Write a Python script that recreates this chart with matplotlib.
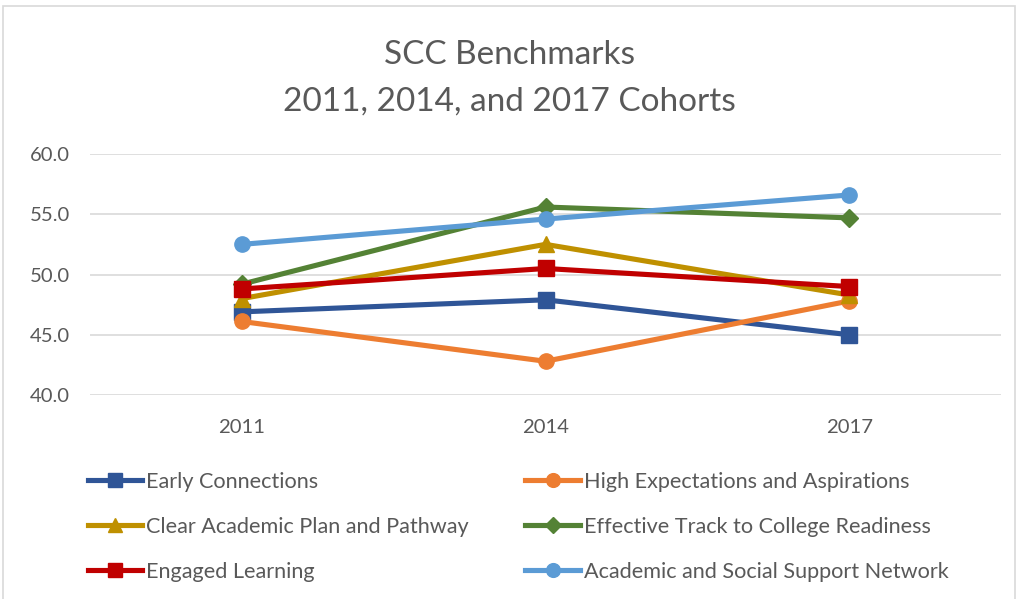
import matplotlib
matplotlib.use("Agg")
import matplotlib.pyplot as plt
from matplotlib.patches import Rectangle

years = ["2011", "2014", "2017"]
series_names = [
    "Early Connections",
    "High Expectations and Aspirations",
    "Clear Academic Plan and Pathway",
    "Effective Track to College Readiness",
    "Engaged Learning",
    "Academic and Social Support Network",
]
early = [46.9, 47.9, 45.0]
high = [46.1, 42.8, 47.8]
clear = [48.0, 52.5, 48.3]
effective = [49.2, 55.6, 54.7]
engaged = [48.8, 50.5, 49.0]
academic = [52.5, 54.6, 56.6]
yticks = [40.0, 45.0, 50.0, 55.0, 60.0]

colors = ["#2F5597", "#ED7D31", "#BF9000", "#548235", "#C00000", "#5B9BD5"]
markers = ["s", "o", "^", "D", "s", "o"]
msizes = [11, 11, 11, 9, 11, 11]
data = [early, high, clear, effective, engaged, academic]

plt.rcParams['font.family'] = ['Lato', 'DejaVu Sans']
txt = "#595959"

fig = plt.figure(figsize=(10.18, 5.99), dpi=100)
ax = fig.add_axes([90/1018, 1-395/599, (1001-90)/1018, (395-154)/599])

x = list(range(len(years)))
handles = []
for name, vals, c, m, ms in zip(series_names, data, colors, markers, msizes):
    h, = ax.plot(x, vals, color=c, lw=3.7, marker=m, markersize=ms,
                 markeredgecolor=c, markerfacecolor=c, label=name, zorder=3)
    handles.append(h)

ax.set_xlim(-0.5, 2.5)
ax.set_ylim(40, 60)
ax.set_yticks(yticks)
ax.set_yticklabels([f"{v:.1f}" for v in yticks])
ax.set_xticks(x)
ax.set_xticklabels(years)
ax.grid(axis='y', color="#D9D9D9", lw=1.2)
ax.set_axisbelow(True)
for s in ax.spines.values():
    s.set_visible(False)
ax.tick_params(axis='both', length=0, labelsize=14.6, labelcolor=txt)
ax.tick_params(axis='x', pad=17)
ax.tick_params(axis='y', pad=14.5)

fig.text(0.5, 1-55/599, "SCC Benchmarks", ha='center', va='center', fontsize=24, color=txt)
fig.text(0.5, 1-102/599, "2011, 2014, and 2017 Cohorts", ha='center', va='center', fontsize=24, color=txt)

order = [0, 2, 4, 1, 3, 5]
leg = fig.legend([handles[i] for i in order], [series_names[i] for i in order],
                 ncol=2, loc='upper left', bbox_to_anchor=(88/1018, 1-472/599),
                 frameon=False, fontsize=15.6, labelcolor=txt, handlelength=2.5,
                 handletextpad=0.2, columnspacing=2.6, labelspacing=1.15,
                 borderaxespad=0, borderpad=0, markerscale=0.9)

fig.add_artist(Rectangle((3/1018, -0.01), 1012/1018, 1.0, transform=fig.transFigure,
                         fill=False, edgecolor="#D9D9D9", lw=1.2))

fig.savefig("out.png", dpi=100)
